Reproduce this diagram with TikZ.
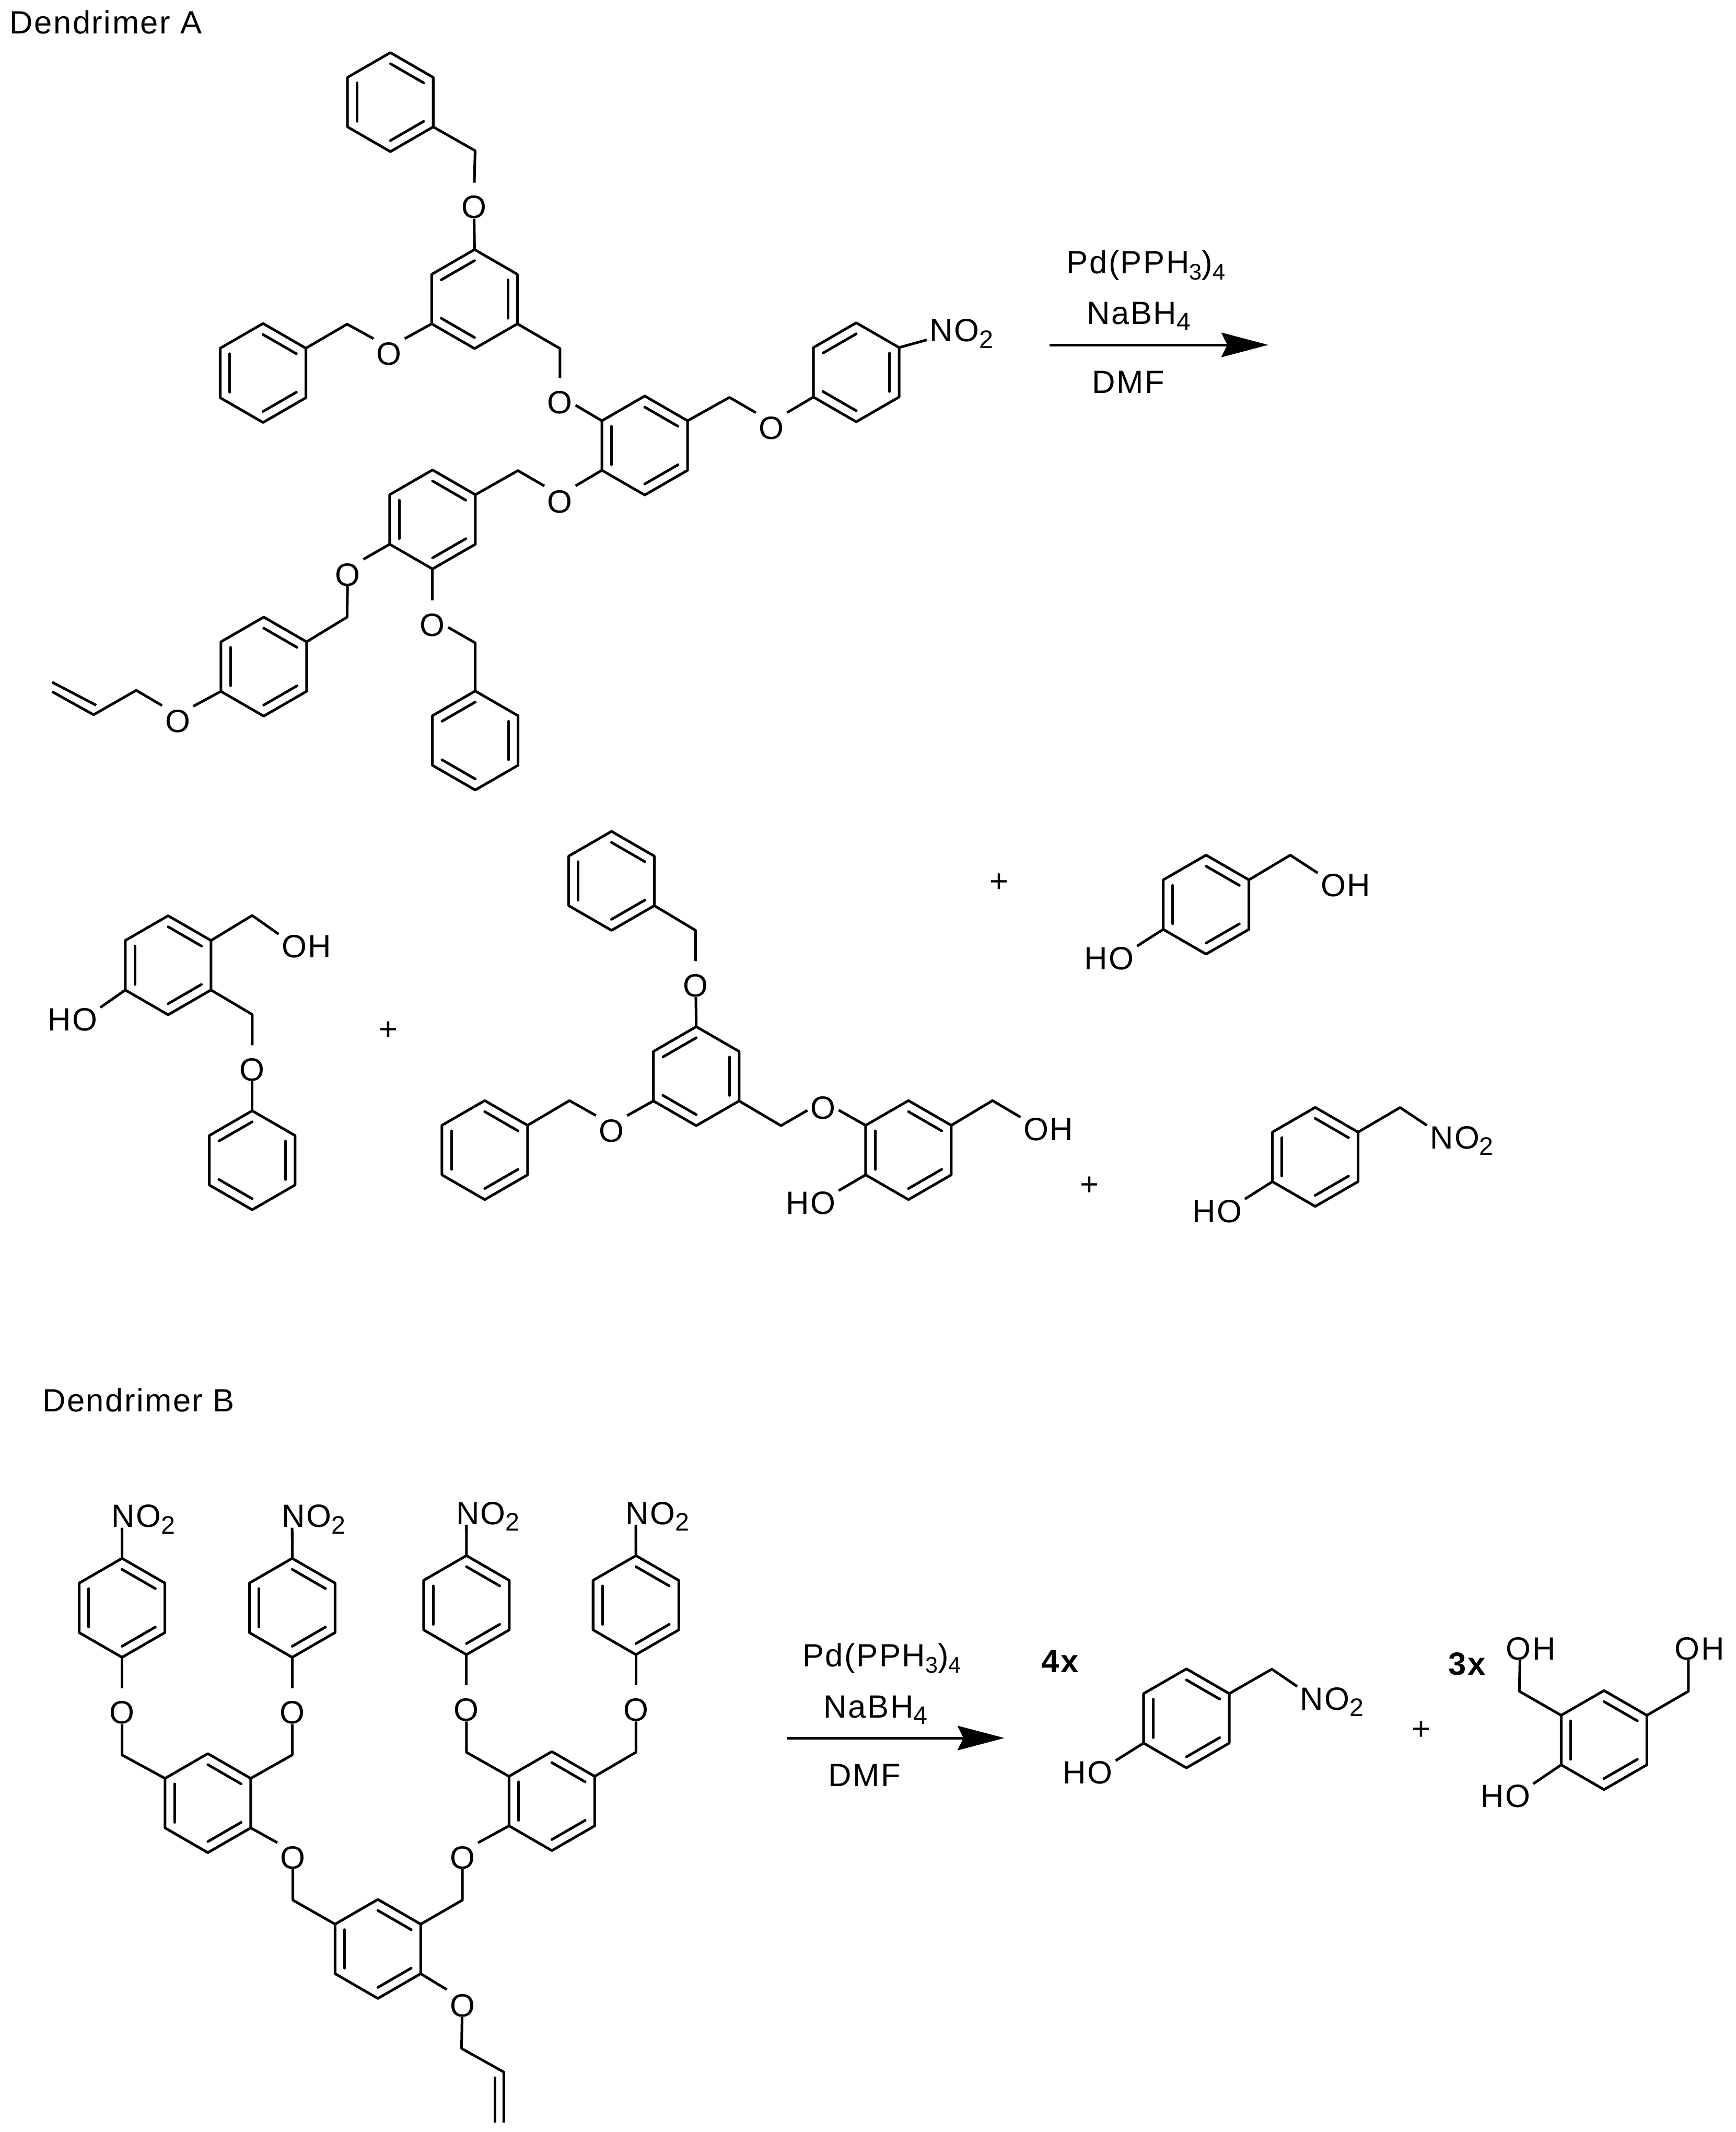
\documentclass[tikz,border=0pt]{standalone}
\usepackage{fontspec}
\setmainfont{Liberation Sans}[LetterSpace=4]
\usetikzlibrary{calc,arrows.meta}

\newcommand{\subs}[2][14]{\raisebox{-3.5pt}{\fontsize{#1}{#1}\selectfont #2}}
\newcommand{\benzring}[4]{%
  \coordinate (#1) at (#2,#3);
  \coordinate (#1-a) at (#2,#3-36.5);
  \coordinate (#1-b) at (#2+31.6,#3-18.25);
  \coordinate (#1-c) at (#2+31.6,#3+18.25);
  \coordinate (#1-d) at (#2,#3+36.5);
  \coordinate (#1-e) at (#2-31.6,#3+18.25);
  \coordinate (#1-f) at (#2-31.6,#3-18.25);
  \draw [bond] (#1-a) -- (#1-b) -- (#1-c) -- (#1-d) -- (#1-e) -- (#1-f) -- cycle;
  \foreach \p/\q in {#4} {
    \draw [bond, line cap=round] ($(#1-\p)!0.223!(#1)$) -- ($(#1-\q)!0.223!(#1)$);
  }%
}
\tikzset{
  bond/.style={line width=1.45pt, line join=round},
  fnt/.style={font=\fontsize{17.8}{22}\selectfont, inner sep=0pt},
  txt/.style={fnt, anchor=base west},
  atom/.style={fnt, inner xsep=1.5pt, text height=19.5pt, text depth=0pt},
  lbl/.style={fnt, anchor=west, inner xsep=1.5pt, text height=12.7pt, text depth=0pt},
}

\begin{document}
\begin{tikzpicture}[x=0.75pt,y=0.75pt,yscale=-1,xscale=1]
\useasboundingbox (0,0) rectangle (1280,1572);

% Text Node
\node (titlea) at (7,24.7) [txt] {Dendrimer A};
\node (titleb) at (31,1040.7) [txt] {Dendrimer B};

%Dendrimer A
\benzring{ra1}{287.9}{75.3}{a/b,c/d,e/f}
\benzring{ra2}{350}{220.5}{f/a,b/c,d/e}
\benzring{ra3}{194}{275}{a/b,c/d,e/f}
\benzring{ra4}{475.5}{328.5}{a/b,c/d,e/f}
\benzring{ra5}{631.5}{274.5}{f/a,b/c,d/e}
\benzring{ra6}{319}{383}{a/b,c/d,e/f}
\benzring{ra7}{194.5}{491.5}{a/b,c/d,e/f}
\benzring{ra8}{350.5}{546}{f/a,b/c,d/e}
\node (oa1) at (349.5,148) [atom] {O};
\node (oa2) at (287,256) [atom] {O};
\node (oa3) at (413,292) [atom] {O};
\node (oa4) at (569,311) [atom] {O};
\node (oa5) at (413,365) [atom] {O};
\node (oa6) at (256.5,419) [atom] {O};
\node (oa7) at (131,527) [atom] {O};
\node (oa8) at (319,456) [atom] {O};
\node (noa) at (683.5,243.5) [lbl] {NO\subs{2}};
\coordinate (ca1) at (350.4,111.1);
\coordinate (ca2) at (256,239);
\coordinate (ca3) at (413,257);
\coordinate (ca4) at (538,293);
\coordinate (ca5) at (382,347);
\coordinate (ca6) at (256,455);
\coordinate (ca7) at (100.5,509);
\coordinate (ca8) at (350.5,474);
\coordinate (va1) at (69,527);
\coordinate (va2) at (38.5,510);
\coordinate (va3) at (71,520);
\coordinate (va4) at (38.5,503);
\draw [bond] (ra1-c) -- (ca1) -- (oa1);
\draw [bond] (oa1) -- (ra2-a);
\draw [bond] (ra2-e) -- (oa2);
\draw [bond] (oa2) -- (ca2) -- (ra3-b);
\draw [bond] (ra2-c) -- (ca3) -- (oa3);
\draw [bond] (oa3) -- (ra4-f);
\draw [bond] (ra4-b) -- (ca4) -- (oa4);
\draw [bond] (oa4) -- (ra5-e);
\draw [bond] (ra5-b) -- (noa);
\draw [bond] (ra4-e) -- (oa5);
\draw [bond] (oa5) -- (ca5) -- (ra6-b);
\draw [bond] (ra6-e) -- (oa6);
\draw [bond] (oa6) -- (ca6) -- (ra7-b);
\draw [bond] (ra7-e) -- (oa7);
\draw [bond] (oa7) -- (ca7) -- (va1) -- (va2);
\draw [bond] (va3) -- (va4);
\draw [bond] (ra6-d) -- (oa8);
\draw [bond] (oa8) -- (ca8) -- (ra8-a);

%Reagents A
\node (pda) at (786.4,201.7) [txt] {Pd(PPH\subs[12.5]{3})\subs[12.5]{4}};
\node (naa) at (801.3,239.2) [txt] {NaBH\subs{4}};
\node (dmfa) at (805.3,290) [txt] {DMF};
\coordinate (arra1) at (774,254.3);
\coordinate (arra2) at (935.4,254.3);
\draw [bond, -{Stealth[length=25.9pt,width=13.5pt,inset=3.2pt]}] (arra1) -- (arra2);

%Products A
\benzring{rb1}{124}{711.7}{a/b,c/d,e/f}
\benzring{rb2}{186}{855.5}{f/a,b/c,d/e}
\benzring{rb3}{451}{649.5}{a/b,c/d,e/f}
\benzring{rb4}{513.5}{793.5}{f/a,b/c,d/e}
\benzring{rb5}{357.5}{848}{a/b,c/d,e/f}
\benzring{rb6}{670}{848}{a/b,c/d,e/f}
\benzring{rb7}{889.5}{667}{a/b,c/d,e/f}
\benzring{rb8}{970}{853}{a/b,c/d,e/f}
\node (ob1) at (186,784) [atom] {O};
\node (ob2) at (513,722) [atom] {O};
\node (ob3) at (451,829) [atom] {O};
\node (ob4) at (607,812) [atom] {O};
\node (ohb1) at (205.5,697.5) [lbl] {OH};
\node (ohb2) at (752.7,832.5) [lbl] {OH};
\node (ohb3) at (971.8,652.4) [lbl] {OH};
\node (hob1) at (32.9,751.6) [lbl] {HO};
\node (hob2) at (577.5,886.6) [lbl] {HO};
\node (hob3) at (797.5,706.3) [lbl] {HO};
\node (hob4) at (877.1,892.8) [lbl] {HO};
\node (nob) at (1052.3,838.5) [lbl] {NO\subs{2}};
\node (plb1) at (286.4,760) [fnt] {+};
\node (plb2) at (737,651) [fnt] {+};
\node (plb3) at (803.4,874.5) [fnt] {+};
\coordinate (cb1) at (186,675);
\coordinate (cb2) at (186,748);
\coordinate (cb3) at (513,686);
\coordinate (cb4) at (420,811.5);
\coordinate (cb5) at (576,830);
\coordinate (cb6) at (732,811.5);
\coordinate (cb7) at (951.6,630.5);
\coordinate (cb8) at (1032.6,816.6);
\draw [bond] (rb1-b) -- (cb1) -- (ohb1.north west);
\draw [bond] (rb1-e) -- (hob1.north east);
\draw [bond] (rb1-c) -- (cb2) -- (ob1);
\draw [bond] (ob1) -- (rb2-a);
\draw [bond] (rb3-c) -- (cb3) -- (ob2);
\draw [bond] (ob2) -- (rb4-a);
\draw [bond] (rb4-e) -- (ob3);
\draw [bond] (ob3) -- (cb4) -- (rb5-b);
\draw [bond] (rb4-c) -- (cb5) -- (ob4);
\draw [bond] (ob4) -- (rb6-f);
\draw [bond] (rb6-b) -- (cb6) -- (ohb2.north west);
\draw [bond] (rb6-e) -- (hob2.north east);
\draw [bond] (rb7-b) -- (cb7) -- (ohb3.north west);
\draw [bond] (rb7-e) -- (hob3.north east);
\draw [bond] (rb8-b) -- (cb8) -- (nob.north west);
\draw [bond] (rb8-e) -- (hob4.north east);

%Dendrimer B
\benzring{rc1}{90}{1185.5}{a/b,c/d,e/f}
\benzring{rc2}{215.5}{1185.5}{a/b,c/d,e/f}
\benzring{rc3}{344}{1183.5}{a/b,c/d,e/f}
\benzring{rc4}{469}{1183.5}{a/b,c/d,e/f}
\benzring{rc5}{153.3}{1329.5}{a/b,c/d,e/f}
\benzring{rc6}{407}{1328}{a/b,c/d,e/f}
\benzring{rc7}{278.7}{1437}{a/b,c/d,e/f}
\node (noc1) at (80.1,1117.7) [lbl] {NO\subs{2}};
\node (noc2) at (205.6,1117.7) [lbl] {NO\subs{2}};
\node (noc3) at (334.1,1115.5) [lbl] {NO\subs{2}};
\node (noc4) at (459.1,1115.5) [lbl] {NO\subs{2}};
\node (oc1) at (90,1258) [atom] {O};
\node (oc2) at (215.5,1258) [atom] {O};
\node (oc3) at (344,1256) [atom] {O};
\node (oc4) at (469,1256) [atom] {O};
\node (oc5) at (216,1365) [atom] {O};
\node (oc6) at (341,1365) [atom] {O};
\node (oc7) at (341,1474) [atom] {O};
\coordinate (cc1) at (90,1294);
\coordinate (cc2) at (215.5,1294);
\coordinate (cc3) at (344,1292);
\coordinate (cc4) at (469,1292);
\coordinate (cc5) at (216,1401);
\coordinate (cc6) at (341,1401);
\coordinate (cc7) at (340.4,1510.4);
\coordinate (vc1) at (371.6,1527.8);
\coordinate (vc2) at (371.6,1565);
\coordinate (vc3) at (365.2,1531.3);
\coordinate (vc4) at (365.2,1565);
\draw [bond] (rc1-a) -- ([xshift=7.4pt]noc1.south west);
\draw [bond] (rc2-a) -- ([xshift=7.4pt]noc2.south west);
\draw [bond] (rc3-a) -- ([xshift=7.4pt]noc3.south west);
\draw [bond] (rc4-a) -- ([xshift=7.4pt]noc4.south west);
\draw [bond] (rc1-d) -- (oc1);
\draw [bond] (oc1) -- (cc1) -- (rc5-f);
\draw [bond] (rc2-d) -- (oc2);
\draw [bond] (oc2) -- (cc2) -- (rc5-b);
\draw [bond] (rc3-d) -- (oc3);
\draw [bond] (oc3) -- (cc3) -- (rc6-f);
\draw [bond] (rc4-d) -- (oc4);
\draw [bond] (oc4) -- (cc4) -- (rc6-b);
\draw [bond] (rc5-c) -- (oc5);
\draw [bond] (oc5) -- (cc5) -- (rc7-f);
\draw [bond] (rc6-e) -- (oc6);
\draw [bond] (oc6) -- (cc6) -- (rc7-b);
\draw [bond] (rc7-c) -- (oc7);
\draw [bond] (oc7) -- (cc7) -- (vc1) -- (vc2);
\draw [bond] (vc3) -- (vc4);

%Reagents B
\node (pdc) at (591.7,1228.8) [txt] {Pd(PPH\subs[12.5]{3})\subs[12.5]{4}};
\node (nac) at (607.3,1266.7) [txt] {NaBH\subs{4}};
\node (dmfc) at (610.6,1317.2) [txt] {DMF};
\coordinate (arrc1) at (580.4,1281.5);
\coordinate (arrc2) at (740.8,1281.5);
\draw [bond, -{Stealth[length=25.9pt,width=13.5pt,inset=3.2pt]}] (arrc1) -- (arrc2);

%Products B
\node (nx) at (768,1233) [txt] {\bfseries 4x};
\node (tx) at (1068,1235) [txt] {\bfseries 3x};
\node (pld) at (1048,1275.8) [fnt] {+};
\benzring{rd1}{875}{1267}{a/b,c/d,e/f}
\benzring{rd2}{1183}{1283}{a/b,c/d,e/f}
\node (nod) at (956.7,1252.2) [lbl] {NO\subs{2}};
\node (hod1) at (781.7,1306.9) [lbl] {HO};
\node (hod2) at (1089.7,1324) [lbl] {HO};
\node (ohd1) at (1108.4,1215.3) [lbl] {OH};
\node (ohd2) at (1232.9,1215.3) [lbl] {OH};
\coordinate (cd1) at (938,1230.7);
\coordinate (cd2) at (1120.5,1247);
\coordinate (cd3) at (1245.2,1247);
\draw [bond] (rd1-b) -- (cd1) -- (nod.north west);
\draw [bond] (rd1-e) -- (hod1.north east);
\draw [bond] (rd2-f) -- (cd2) -- ([xshift=9.45pt]ohd1.south west);
\draw [bond] (rd2-b) -- (cd3) -- ([xshift=9.2pt]ohd2.south west);
\draw [bond] (rd2-e) -- (hod2.north east);

\end{tikzpicture}
\end{document}
